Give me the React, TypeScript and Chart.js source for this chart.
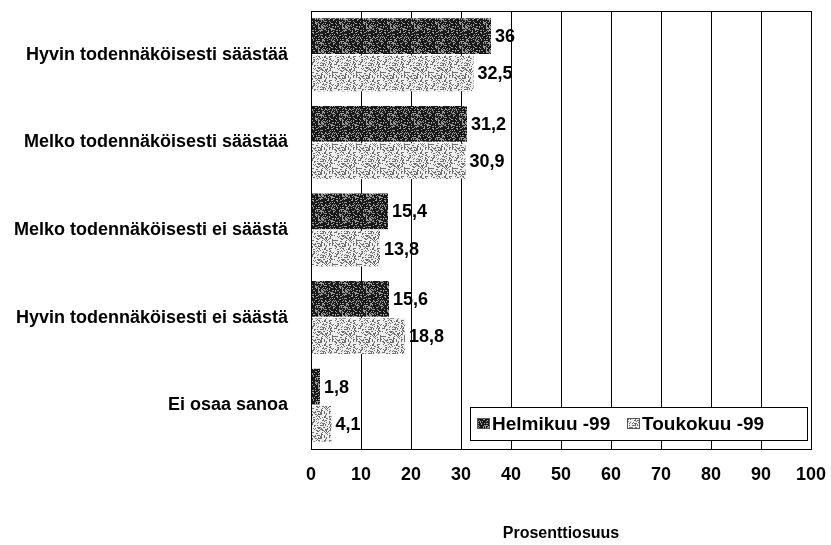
import React, { useEffect, useRef } from "react";
import { Chart, registerables } from "chart.js";

Chart.register(...registerables);

const categories = [
  "Hyvin todennäköisesti säästää",
  "Melko todennäköisesti säästää",
  "Melko todennäköisesti ei säästä",
  "Hyvin todennäköisesti ei säästä",
  "Ei osaa sanoa",
];
const seriesLabels = ["Helmikuu -99", "Toukokuu -99"];
const helmikuu = [36, 31.2, 15.4, 15.6, 1.8];
const toukokuu = [32.5, 30.9, 13.8, 18.8, 4.1];
const xMin = 0;
const xMax = 100;
const xStep = 10;
const axisTitle = "Prosenttiosuus";

const FONT = "'Liberation Sans', Arial, sans-serif";

function hash(x: number, y: number, s: number) {
  const v = Math.sin(x * 12.9898 + y * 78.233 + s * 37.719) * 43758.5453;
  return v - Math.floor(v);
}

function makePattern(base: string, speck: string, density: number, seed: number) {
  const c = document.createElement("canvas");
  c.width = 24;
  c.height = 24;
  const g = c.getContext("2d")!;
  g.fillStyle = base;
  g.fillRect(0, 0, 24, 24);
  g.fillStyle = speck;
  for (let y = 0; y < 24; y++) {
    for (let x = 0; x < 24; x++) {
      if (hash(x, y, seed) < density) g.fillRect(x, y, 1, 1);
    }
  }
  return g.createPattern(c, "repeat")!;
}

export default function App() {
  const ref = useRef<HTMLCanvasElement>(null);

  useEffect(() => {
    const canvas = ref.current!;
    const dark = makePattern("#181818", "#9a9a9a", 0.28, 1);
    const light = makePattern("#eeeeee", "#707070", 0.3, 2);

    const valueLabels = {
      id: "valueLabels",
      afterDatasetsDraw(chart: any) {
        const ctx = chart.ctx;
        ctx.save();
        ctx.font = `bold 18px ${FONT}`;
        ctx.fillStyle = "#000";
        ctx.textAlign = "left";
        ctx.textBaseline = "middle";
        chart.data.datasets.forEach((ds: any, di: number) => {
          const meta = chart.getDatasetMeta(di);
          meta.data.forEach((el: any, i: number) => {
            const t = String(ds.data[i]).replace(".", ",");
            ctx.fillText(t, el.x + 4, el.y + 1);
          });
        });
        ctx.restore();
      },
    };

    const frameAndLegend = {
      id: "frameAndLegend",
      afterDraw(chart: any) {
        const ctx = chart.ctx;
        const a = chart.chartArea;
        ctx.save();
        ctx.strokeStyle = "#000";
        ctx.lineWidth = 1;
        ctx.strokeRect(Math.round(a.left) + 0.5, Math.round(a.top) + 0.5, Math.round(a.right - a.left), Math.round(a.bottom - a.top));
        const lx = Math.round(a.left) + 159;
        const ly = Math.round(a.top) + 396;
        const lw = 337;
        const lh = 33;
        ctx.fillStyle = "#fff";
        ctx.fillRect(lx, ly, lw, lh);
        ctx.strokeRect(lx + 0.5, ly + 0.5, lw, lh);
        const fills = [dark, light];
        const xs = [lx + 7, lx + 157];
        ctx.font = `bold 19px ${FONT}`;
        ctx.textAlign = "left";
        ctx.textBaseline = "middle";
        chart.data.datasets.forEach((ds: any, i: number) => {
          ctx.fillStyle = fills[i];
          ctx.fillRect(xs[i], ly + 11, 13, 11);
          ctx.strokeStyle = "#555";
          ctx.strokeRect(xs[i] + 0.5, ly + 11.5, 12, 10);
          ctx.fillStyle = "#000";
          ctx.fillText(ds.label, xs[i] + 15, ly + lh / 2 + 1);
        });
        ctx.restore();
      },
    };

    const chart = new Chart(canvas, {
      type: "bar",
      data: {
        labels: categories,
        datasets: [
          {
            label: seriesLabels[0],
            data: helmikuu,
            backgroundColor: dark,
            borderWidth: 0,
            barPercentage: 0.96,
            categoryPercentage: 0.85,
          },
          {
            label: seriesLabels[1],
            data: toukokuu,
            backgroundColor: light,
            borderWidth: 0,
            barPercentage: 0.96,
            categoryPercentage: 0.85,
          },
        ],
      },
      options: {
        indexAxis: "y",
        responsive: false,
        animation: false,
        devicePixelRatio: 1,
        layout: { padding: { top: 11, right: 20, left: 0, bottom: 0 } },
        plugins: {
          legend: { display: false },
          tooltip: { enabled: false },
        },
        scales: {
          x: {
            min: xMin,
            max: xMax,
            ticks: {
              stepSize: xStep,
              color: "#000",
              padding: 15,
              font: { family: FONT, size: 18, weight: "bold" },
            },
            grid: { color: "#000", lineWidth: 1, drawTicks: false },
            border: { color: "#000" },
            title: {
              display: true,
              text: axisTitle,
              color: "#000",
              font: { family: FONT, size: 16, weight: "bold" },
              padding: { top: 0, bottom: 2 },
            },
            afterFit: (s: any) => {
              s.height = 96;
              s.paddingLeft = 0;
              s.paddingRight = 0;
              s.paddingTop = 0;
              s.paddingBottom = 0;
            },
          },
          y: {
            ticks: {
              color: "#000",
              padding: 15,
              font: { family: FONT, size: 18, weight: "bold" },
            },
            grid: { display: false },
            border: { color: "#000" },
            afterFit: (s: any) => {
              s.width = 311;
              s.paddingLeft = 0;
              s.paddingRight = 0;
              s.paddingTop = 0;
              s.paddingBottom = 0;
            },
          },
        },
      },
      plugins: [valueLabels, frameAndLegend],
    } as any);

    return () => chart.destroy();
  }, []);

  return (
    <div style={{ position: "absolute", left: 0, top: 0, width: 831, height: 545, background: "#fff" }}>
      <canvas ref={ref} width={831} height={545} />
    </div>
  );
}
